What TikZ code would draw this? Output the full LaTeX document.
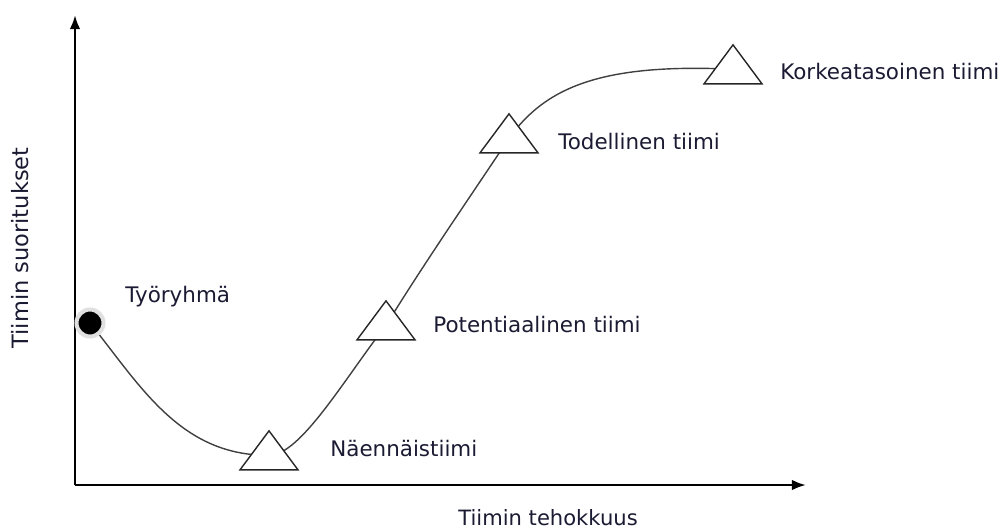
\documentclass[tikz,border=0pt]{standalone}
\usepackage{fontspec}
\setmainfont{DejaVu Sans}
\usetikzlibrary{shapes.geometric, arrows.meta, positioning, backgrounds}
\definecolor{labelink}{HTML}{1A1A33}
\tikzset{
    axis/.style={line width=1.4pt, -{Latex[length=8pt, width=6pt]}},
    stage/.style={isosceles triangle, shape border rotate=90, isosceles triangle stretches, minimum width=58*0.02cm, minimum height=39*0.02cm, inner sep=0pt, draw=black!85, line width=0.8pt, fill=white, anchor=apex},
    start/.style={circle, fill=black, minimum size=27*0.02cm, inner sep=0pt, draw=black!12, line width=2.3pt},
    stagelabel/.style={anchor=west, inner sep=0pt, text=labelink, font=\fontsize{12.2}{14}\selectfont},
    curve/.style={draw=black!75, line width=0.8pt}
}
\begin{document}
\begin{tikzpicture}[x=0.02cm, y=-0.02cm]
    \useasboundingbox (0,0) rectangle (999,531);
    % axes
    \coordinate (origin) at (75,485);
    \coordinate (ytop) at (75,15);
    \coordinate (xend) at (806,485);
    \draw [axis] (origin) -- (ytop);
    \draw [axis] (origin) -- (xend);
    \node (ylab) [rotate=90, text=labelink, font=\fontsize{12.8}{14}\selectfont] at (20,248) {Tiimin suoritukset};
    \node (xlab) [text=labelink, font=\fontsize{12}{14}\selectfont] at (548,518) {Tiimin tehokkuus};

    % stages
    \node (tyo) [start] at (90,323) {};
    \node (nae) [stage] at (269,429) {};
    \node (pot) [stage] at (386,299) {};
    \node (tod) [stage] at (509,112) {};
    \node (kor) [stage] at (733,43) {};

    % development curve, behind the stages
    \begin{pgfonlayer}{background}
    \draw [curve] (tyo.center) .. controls (140,385) and (180,456) .. (nae.center)
        .. controls (300,456) and (345,378) .. (pot.center)
        .. controls (425,262) and (470,197) .. (tod.center)
        .. controls (545,88) and (600,63) .. (kor.center);
    \end{pgfonlayer}

    \node (tyolab) [stagelabel] at (125,297) {Työryhmä};
    \node (naelab) [stagelabel] at (330,448) {Näennäistiimi};
    \node (potlab) [stagelabel] at (433,325) {Potentiaalinen tiimi};
    \node (todlab) [stagelabel] at (558,142) {Todellinen tiimi};
    \node (korlab) [stagelabel] at (780,72) {Korkeatasoinen tiimi};
\end{tikzpicture}
\end{document}
